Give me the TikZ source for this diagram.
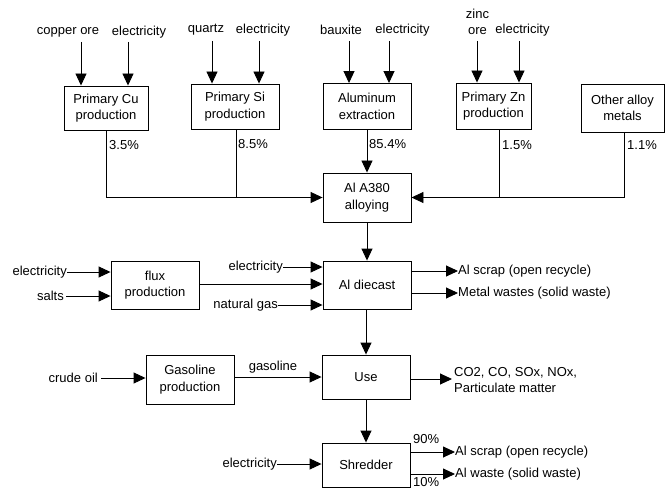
\documentclass[tikz,border=0pt]{standalone}
\usepackage{fontspec}
\setmainfont{Liberation Sans}
\usetikzlibrary{arrows.meta}
\tikzset{
  box/.style={draw, line width=0.9pt, align=center, inner sep=1pt},
  lbl/.style={inner sep=0pt, align=center},
  arr/.style={line width=0.9pt, -{Triangle[length=12pt,width=11pt]}},
  ln/.style={line width=0.9pt},
}
\begin{document}
\begin{tikzpicture}[x=1pt,y=-1pt,font=\fontsize{13}{16.5}\selectfont]
\useasboundingbox (0,0) rectangle (666,489);
% boxes
\node[box, minimum width=84pt, minimum height=44pt] (cu) at (106,108) {Primary Cu\\production};
\node[box, minimum width=88pt, minimum height=45pt] (si) at (235,106.5) {Primary Si\\production};
\node[box, minimum width=88pt, minimum height=46pt] (alx) at (367,106.5) {Aluminum\\extraction};
\node[box, minimum width=75pt, minimum height=46pt] (zn) at (493.5,106) {Primary Zn\\production};
\node[box, minimum width=83pt, minimum height=48pt] (oth) at (622.5,108) {Other alloy\\metals};
\node[box, minimum width=88pt, minimum height=49pt] (a380) at (367,197.5) {Al A380\\alloying};
\node[box, minimum width=88pt, minimum height=48pt] (die) at (367,285) {Al diecast};
\node[box, minimum width=88pt, minimum height=48pt] (flux) at (155,285) {flux\\production};
\node[box, minimum width=88pt, minimum height=49pt] (gas) at (190,379.5) {Gasoline\\production};
\node[box, minimum width=88pt, minimum height=44pt] (use) at (366,377) {Use};
\node[box, minimum width=88pt, minimum height=44pt] (shr) at (366,465) {Shredder};
% top input labels
\node[lbl] (cuore) at (68,32) {copper ore};
\node[lbl] (cuel) at (139,32) {electricity};
\node[lbl] (quartz) at (206,30) {quartz};
\node[lbl] (siel) at (263,30) {electricity};
\node[lbl] (baux) at (341,30) {bauxite};
\node[lbl] (alel) at (402.5,30) {electricity};
\node[lbl] (znore) at (477.5,22) {zinc\\ore};
\node[lbl] (znel) at (522.5,30) {electricity};
\coordinate (t1) at (81,42);
\coordinate (t2) at (128,42);
\coordinate (t3) at (212,41);
\coordinate (t4) at (259,41);
\coordinate (t5) at (349,41);
\coordinate (t6) at (389,41);
\coordinate (t7) at (477,41);
\coordinate (t8) at (519,41);
\draw[arr] (t1) -- (t1 |- cu.north);
\draw[arr] (t2) -- (t2 |- cu.north);
\draw[arr] (t3) -- (t3 |- si.north);
\draw[arr] (t4) -- (t4 |- si.north);
\draw[arr] (t5) -- (t5 |- alx.north);
\draw[arr] (t6) -- (t6 |- alx.north);
\draw[arr] (t7) -- (t7 |- zn.north);
\draw[arr] (t8) -- (t8 |- zn.north);
% to alloying
\coordinate (sio) at (236,0);
\coordinate (zno) at (499,0);
\coordinate (otho) at (624,0);
\draw[arr] (cu.south) |- (a380.west);
\draw[ln] (sio |- si.south) -- (sio |- a380.west);
\draw[arr] (alx.south) -- (a380.north);
\draw[ln] (zno |- zn.south) -- (zno |- a380.east);
\draw[arr] (otho |- oth.south) |- (a380.east);
\node[lbl, anchor=west] (p1) at (109,145) {3.5\%};
\node[lbl, anchor=west] (p2) at (238,144) {8.5\%};
\node[lbl, anchor=west] (p3) at (369,144) {85.4\%};
\node[lbl, anchor=west] (p4) at (502,145) {1.5\%};
\node[lbl, anchor=west] (p5) at (627,145) {1.1\%};
% alloying to diecast
\draw[arr] (a380.south) -- (die.north);
% diecast inputs
\node[lbl, anchor=east] (dieel) at (283,267) {electricity};
\node[lbl, anchor=east] (ng) at (278,305) {natural gas};
\draw[arr] (dieel.east) -- (dieel.east -| die.west);
\draw[arr] (ng.east) -- (ng.east -| die.west);
\coordinate (fl) at (0,284);
\draw[arr] (fl -| flux.east) -- (fl -| die.west);
% flux inputs
\node[lbl, anchor=east] (fxel) at (67,272) {electricity};
\node[lbl, anchor=east] (salts) at (64,296) {salts};
\draw[arr] (fxel.east) -- (fxel.east -| flux.west);
\draw[arr] ([xshift=2pt]salts.east) -- (salts.east -| flux.west);
% diecast outputs
\node[lbl, anchor=west] (o1) at (458,271) {Al scrap (open recycle)};
\node[lbl, anchor=west] (o2) at (458,293) {Metal wastes (solid waste)};
\draw[arr] (o1.west -| die.east) -- (o1.west);
\draw[arr] (o2.west -| die.east) -- (o2.west);
% diecast to use
\draw[arr] (die.south -| use.north) -- (use.north);
% gasoline
\node[lbl, anchor=east] (crude) at (98,378) {crude oil};
\draw[arr] ([xshift=3pt]crude.east) -- (crude.east -| gas.west);
\draw[arr] (use.west -| gas.east) -- (use.west);
\node[lbl] (gasl) at (273,367) {gasoline};
% use outputs
\node[lbl, anchor=west, align=left] (em) at (454,380) {CO2, CO, SOx, NOx,\\Particulate matter};
\coordinate (ue) at (452,379);
\draw[arr] (ue -| use.east) -- (ue);
% use to shredder
\draw[arr] (use.south) -- (shr.north);
% shredder
\node[lbl, anchor=east] (shel) at (277,464) {electricity};
\draw[arr] (shel.east) -- (shel.east -| shr.west);
\node[lbl, anchor=west] (s1) at (455,452) {Al scrap (open recycle)};
\node[lbl, anchor=west] (s2) at (455,474) {Al waste (solid waste)};
\draw[arr] (s1.west -| shr.east) -- (s1.west);
\draw[arr] (s2.west -| shr.east) -- (s2.west);
\node[lbl, anchor=west] (q1) at (413,439) {90\%};
\node[lbl, anchor=west] (q2) at (413,482) {10\%};
\end{tikzpicture}
\end{document}
